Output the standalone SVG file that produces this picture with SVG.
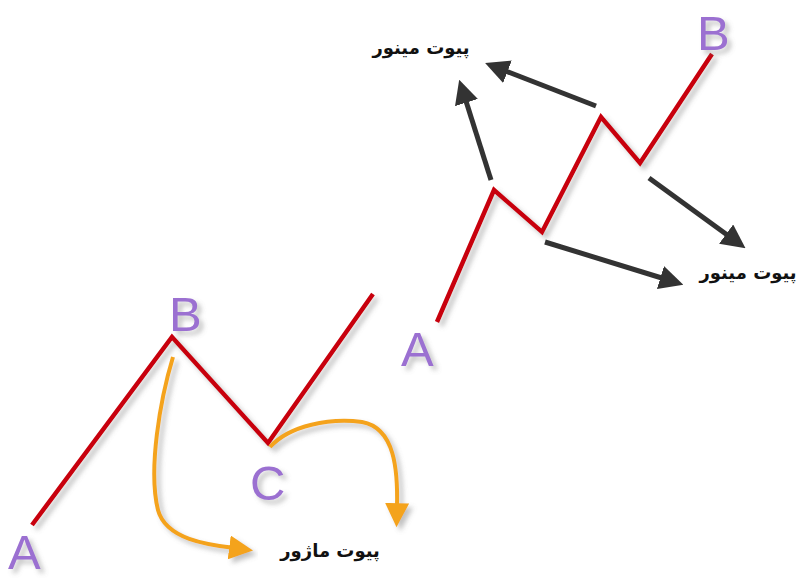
<svg xmlns="http://www.w3.org/2000/svg" width="804" height="580" viewBox="0 0 804 580">
<style>
.red{fill:none;stroke:#c8000a;stroke-width:4.5;stroke-linejoin:miter;filter:url(#sh)}
.dark{fill:none;stroke:#333333;stroke-width:5;marker-end:url(#ad)}
.orange{fill:none;stroke:#f4a31e;stroke-width:4;marker-end:url(#ao);filter:url(#sh)}
.let{font-family:"Liberation Sans",Arial,sans-serif;font-size:49px;fill:#9b6fd1;filter:url(#sh)}
.lbl{font-family:"DejaVu Sans","Noto Sans",sans-serif;font-size:18px;font-weight:bold;fill:#111111;text-anchor:middle}
</style>
<defs>
<filter id="sh" x="-20%" y="-20%" width="150%" height="150%">
<feDropShadow dx="4" dy="4" stdDeviation="2.5" flood-color="#777777" flood-opacity="0.45"/>
</filter>
<marker id="ad" viewBox="0 0 10 10" refX="2" refY="5" markerWidth="24" markerHeight="24" markerUnits="userSpaceOnUse" orient="auto">
<path d="M0,0 L10,5 L0,10 z" fill="#333333"/>
</marker>
<marker id="ao" viewBox="0 0 10 10" refX="2" refY="5" markerWidth="24" markerHeight="24" markerUnits="userSpaceOnUse" orient="auto">
<path d="M0,0 L10,5 L0,10 z" fill="#f4a31e"/>
</marker>
</defs>
<rect width="804" height="580" fill="#ffffff"/>
<g id="connectors">
<path class="red" d="M32,525 L172,337 L268,443 L373,294"/>
<path class="red" d="M437,322 L494,190 L542,232 L601,117 L640,163 L712,54"/>
<path class="dark" d="M491,180 L465,98"/>
<path class="dark" d="M596,106 L503,70"/>
<path class="dark" d="M649,178 L730,237"/>
<path class="dark" d="M545,242 L665,279"/>
<path class="orange" d="M173,357 C160,400 148,470 158,510 C166,540 210,545 234,548"/>
<path class="orange" d="M270,447 C290,425 330,418 362,422 C395,428 398,470 397,508"/>
</g>
<g id="node-A1"><text class="let" x="8" y="569">A</text></g>
<g id="node-B1"><text class="let" x="169" y="331">B</text></g>
<g id="node-C1"><text class="let" x="250" y="500">C</text></g>
<g id="node-A2"><text class="let" x="401" y="366">A</text></g>
<g id="node-B2"><text class="let" x="697" y="50">B</text></g>
<g id="label-minor-top"><text class="lbl" x="421" y="54">پیوت مینور</text></g>
<g id="label-minor-right"><text class="lbl" x="748" y="279">پیوت مینور</text></g>
<g id="label-major"><text class="lbl" x="330" y="557">پیوت ماژور</text></g>
</svg>
